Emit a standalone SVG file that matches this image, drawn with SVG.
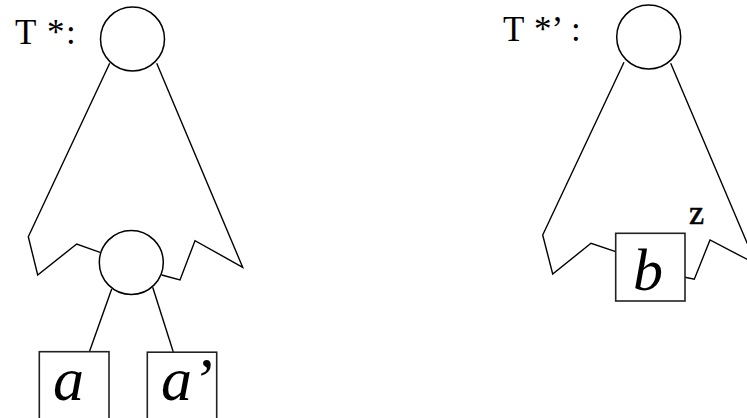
<svg xmlns="http://www.w3.org/2000/svg" width="747" height="418" viewBox="0 0 747 418">
<style>
.ln{fill:none;stroke:#000;stroke-width:1.4;stroke-linejoin:miter}
.nd{fill:#fff;stroke:#000;stroke-width:1.5}
.bx{fill:#fff;stroke:#222;stroke-width:1.6}
.lb{font-family:"Liberation Serif","Times New Roman",serif;fill:#000}
.it{font-family:"Liberation Serif","Times New Roman",serif;font-style:italic;fill:#000}
</style>
<rect width="747" height="418" fill="#fff"/>
<g id="connectors">
<polyline class="ln" points="109.7,63.3 28.3,236.7 37.7,275 76.7,244 100,252.3"/>
<polyline class="ln" points="156.7,63.3 242.7,267.3 195,240.7 180,280 161.7,275"/>
<line class="ln" x1="111.7" y1="289" x2="89.3" y2="352"/>
<line class="ln" x1="152.7" y1="287.3" x2="173.3" y2="352"/>
<polyline class="ln" points="624,62.3 542.7,235 552.7,274 591,243.3 615.7,251.7"/>
<polyline class="ln" points="670.7,63.3 756,264 710,240 694.3,279.3 685,277.3"/>
</g>
<g id="label-T">
<text class="lb" font-size="35" y="43.5"><tspan x="15">T</tspan><tspan x="47">*</tspan><tspan x="66">:</tspan></text>
</g>
<g id="root-left"><circle class="nd" cx="132.5" cy="39" r="32"/></g>
<g id="inner-left"><circle class="nd" cx="131.3" cy="262.5" r="32"/></g>
<g id="leaf-a">
<rect class="bx" x="39.3" y="351.7" width="69.7" height="90"/>
<text class="it" font-size="62" x="53" y="400">a</text>
</g>
<g id="leaf-a2">
<rect class="bx" x="147.3" y="352.2" width="69.4" height="90"/>
<text class="it" font-size="62" x="161" y="400">a’</text>
</g>
<g id="label-T2">
<text class="lb" font-size="35" y="40.5"><tspan x="503">T</tspan><tspan x="534">*’</tspan><tspan x="571">:</tspan></text>
</g>
<g id="root-right"><circle class="nd" cx="648.7" cy="37" r="32"/></g>
<g id="leaf-b">
<rect class="bx" x="615.7" y="233.3" width="69.3" height="67.7"/>
<text class="it" font-size="60" x="633" y="290">b</text>
</g>
<g id="label-z">
<text class="lb" font-size="34" x="689" y="223.5" stroke="#000" stroke-width="0.6">z</text>
</g>
</svg>
